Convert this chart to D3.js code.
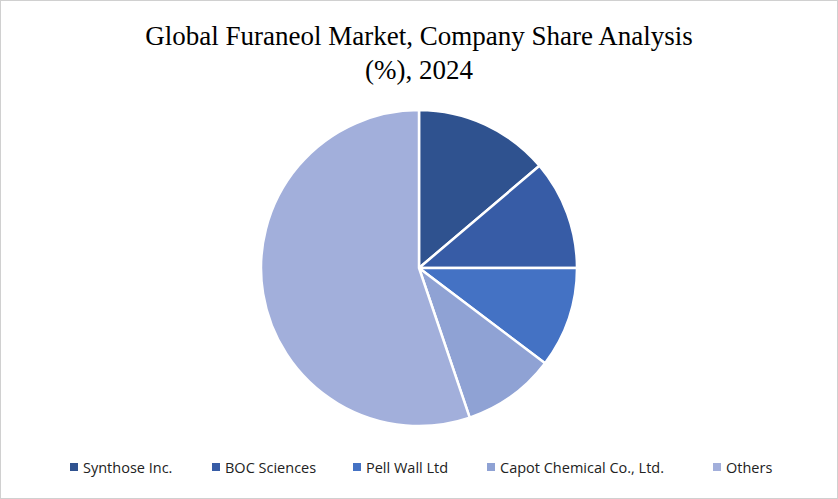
<!DOCTYPE html>
<html><head><meta charset="utf-8">
<script src="https://cdn.jsdelivr.net/npm/d3@7/dist/d3.min.js"></script>
<style>body{margin:0;background:#fff}</style>
</head><body>
<script>
const categories = ["Synthose Inc.", "BOC Sciences", "Pell Wall Ltd", "Capot Chemical Co., Ltd.", "Others"];
const shares = [13.8, 11.2, 10.3, 9.5, 55.2];
const colors = ["#2f528f", "#375ca6", "#4472c4", "#8fa2d4", "#a2afdb"];
const legendX = [70, 212, 353, 487, 713];

const W = 838, H = 499;
const svg = d3.select("body").append("svg").attr("width", W).attr("height", H);
svg.append("rect").attr("x", 0.5).attr("y", 0.5).attr("width", W - 1).attr("height", H - 1)
  .attr("fill", "#fff").attr("stroke", "#d0d0d0");

const title = svg.append("text").attr("text-anchor", "middle")
  .attr("font-family", "Liberation Serif, serif").attr("font-size", 27).attr("fill", "#000");
title.append("tspan").attr("x", 419).attr("y", 45).text("Global Furaneol Market, Company Share Analysis");
title.append("tspan").attr("x", 419).attr("y", 79).text("(%), 2024");

const pie = d3.pie().sort(null).value(d => d);
const arc = d3.arc().innerRadius(0).outerRadius(158);
const g = svg.append("g").attr("transform", "translate(419,268)");
g.selectAll("path").data(pie(shares)).join("path")
  .attr("d", arc).attr("fill", (d, i) => colors[i])
  .attr("stroke", "#fff").attr("stroke-width", 2.5);

const lg = svg.append("g");
categories.forEach((c, i) => {
  lg.append("rect").attr("x", legendX[i]).attr("y", 463).attr("width", 8).attr("height", 8).attr("fill", colors[i]);
  lg.append("text").attr("x", legendX[i] + 13).attr("y", 473)
    .attr("font-family", "Open Sans, sans-serif").attr("font-size", 14.5).attr("fill", "#222").text(c);
});
</script>
</body></html>
